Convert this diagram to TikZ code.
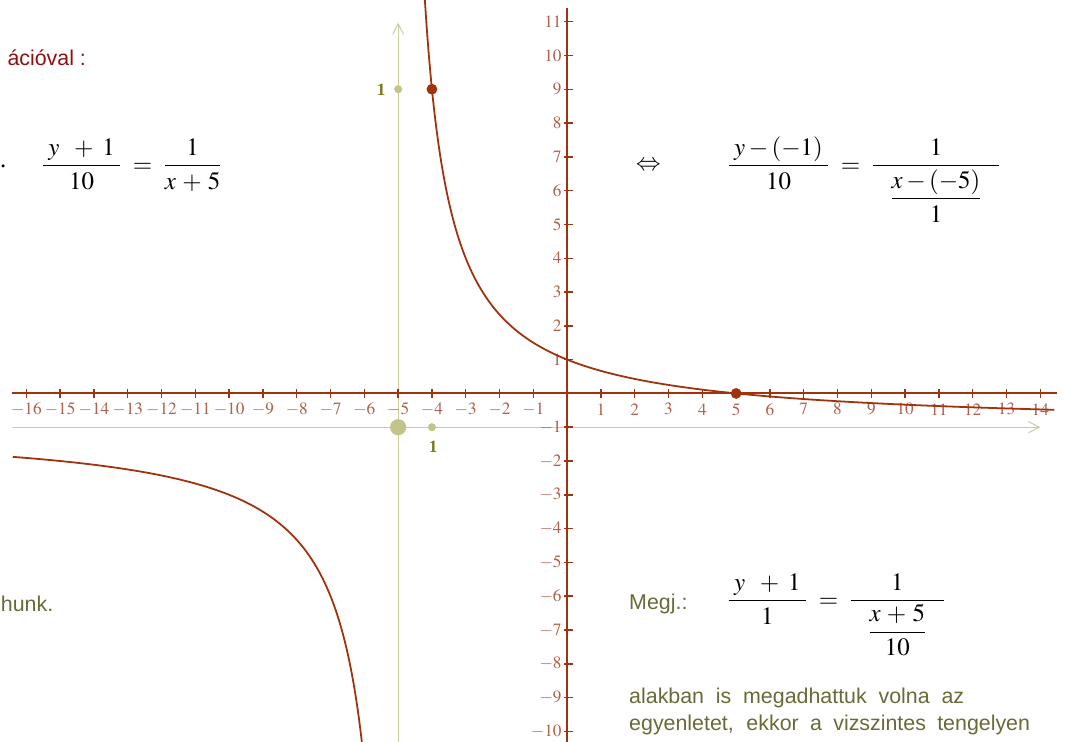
\documentclass[tikz,border=0pt]{standalone}
\usepackage{mathptmx}
\usepackage[no-math]{fontspec}
\setmainfont{Liberation Serif}
\newfontfamily\tahoma{Liberation Sans}
\usetikzlibrary{arrows.meta}
\definecolor{rust}{RGB}{160,50,14}
\definecolor{ticktxt}{RGB}{176,96,76}
\definecolor{sage}{RGB}{202,204,154}
\definecolor{sagedot}{RGB}{194,196,138}
\definecolor{olivenum}{RGB}{122,122,28}
\definecolor{olivetxt}{RGB}{106,106,56}
\definecolor{darkred}{RGB}{140,16,16}
\newcommand{\eqsize}{\fontsize{21}{25}\selectfont}
\newcommand{\txtsize}{\fontsize{18}{22}\selectfont}
\newcommand{\ticksize}{\fontsize{14.5}{17}\selectfont}
\newcommand{\bigfr}[2]{{\displaystyle\frac{#1}{#2}}}

\begin{document}
\begin{tikzpicture}[x=1cm,y=1cm,
 axisline/.style={rust,line width=1.6pt},
 tickmark/.style={rust,line width=1.2pt},
 ticklabel/.style={ticktxt,font=\ticksize,inner sep=0pt},
 sageline/.style={sage,line width=0.8pt,-{Straight Barb[length=0.32cm,width=0.33cm]}},
 graph/.style={rust,line width=1.5pt},
 prose/.style={olivetxt,font=\tahoma\txtsize,inner sep=0pt},
 eqn/.style={font=\eqsize,inner sep=0pt}]
\useasboundingbox (-16.78,-10.31) rectangle (14.73,11.64);
\draw[sageline] (-5,-10.31) -- (-5,10.97);
\draw[sageline] (-16.42,-1) -- (14,-1);
\draw[axisline] (-16.42,0) -- (14.50,0);
\draw[axisline] (0,-10.31) -- (0,11.40);
\foreach \x in {-16,...,-1,1,2,...,14}{
  \draw[tickmark] (\x,-0.13) -- (\x,0.13);
  \node[ticklabel] (xl\x) at (\x,-0.47) {$\x$};
}
\foreach \y in {-10,...,-1,1,2,...,11}{
  \draw[tickmark] (-0.1,\y) -- (0.18,\y);
  \node[ticklabel,anchor=east] (yl\y) at (-0.16,\y) {$\y$};
}
\fill[sagedot] (-5,-1) circle (0.24);
\fill[sagedot] (-4,-1) circle (0.12);
\fill[sagedot] (-5,9) circle (0.12);
\node[olivenum,font=\ticksize\bfseries,inner sep=0pt] (unitx) at (-3.96,-1.58) {1};
\node[olivenum,font=\ticksize\bfseries,inner sep=0pt] (unity) at (-5.50,8.98) {1};
\draw[graph] plot[domain=-0.2345:2.967,samples=200,variable=\s] ({exp(\s)-5},{10/exp(\s)-1});
\draw[graph] plot[domain=0.0714:2.435,samples=200,variable=\s] ({-exp(\s)-5},{-10/exp(\s)-1});
\fill[rust] (-4,9) circle (0.16);
\fill[rust] (5,0) circle (0.16);
\node[darkred,font=\tahoma\txtsize,inner sep=0pt,anchor=east] (head) at (-14.23,9.93) {ációval :};
\node[font=\eqsize,inner sep=0pt,anchor=base west] (dot) at (-16.78,6.69) {.};
\node[eqn,anchor=base west] (eqa) at (-15.56,6.545)
 {$\displaystyle\frac{\;y\;\;+\;1\;}{10}\;=\;\frac{1}{x\,+\,5}$};
\node[eqn] (equiv) at (2.40,6.73) {$\Leftrightarrow$};
\node[eqn,anchor=base west] (eqb) at (4.73,6.545)
 {$\displaystyle\frac{\;y-(-1)\;}{10}\;=\;\frac{1}{\hspace{0.7em}\bigfr{x-(-5)}{1}\hspace{0.7em}}$};
\node[prose,anchor=west] (megj) at (1.83,-6.23) {Megj.:};
\node[eqn,anchor=base west] (eqc) at (4.73,-6.325)
 {$\displaystyle\frac{\;y\;\;+\;1\;}{1}\;=\;\frac{1}{\hspace{0.7em}\bigfr{x\,+\,5}{10}\hspace{0.7em}}$};
\node[prose,anchor=west] (tail) at (-16.76,-6.23) {hunk.};
\node[prose,anchor=base west] (noteA) at (1.83,-9.16) {\makebox[9.91cm][s]{alakban is megadhattuk volna az}};
\node[prose,anchor=base west] (noteB) at (1.83,-9.96) {\makebox[11.86cm][s]{egyenletet, ekkor a vizszintes tengelyen}};
\end{tikzpicture}
\end{document}
